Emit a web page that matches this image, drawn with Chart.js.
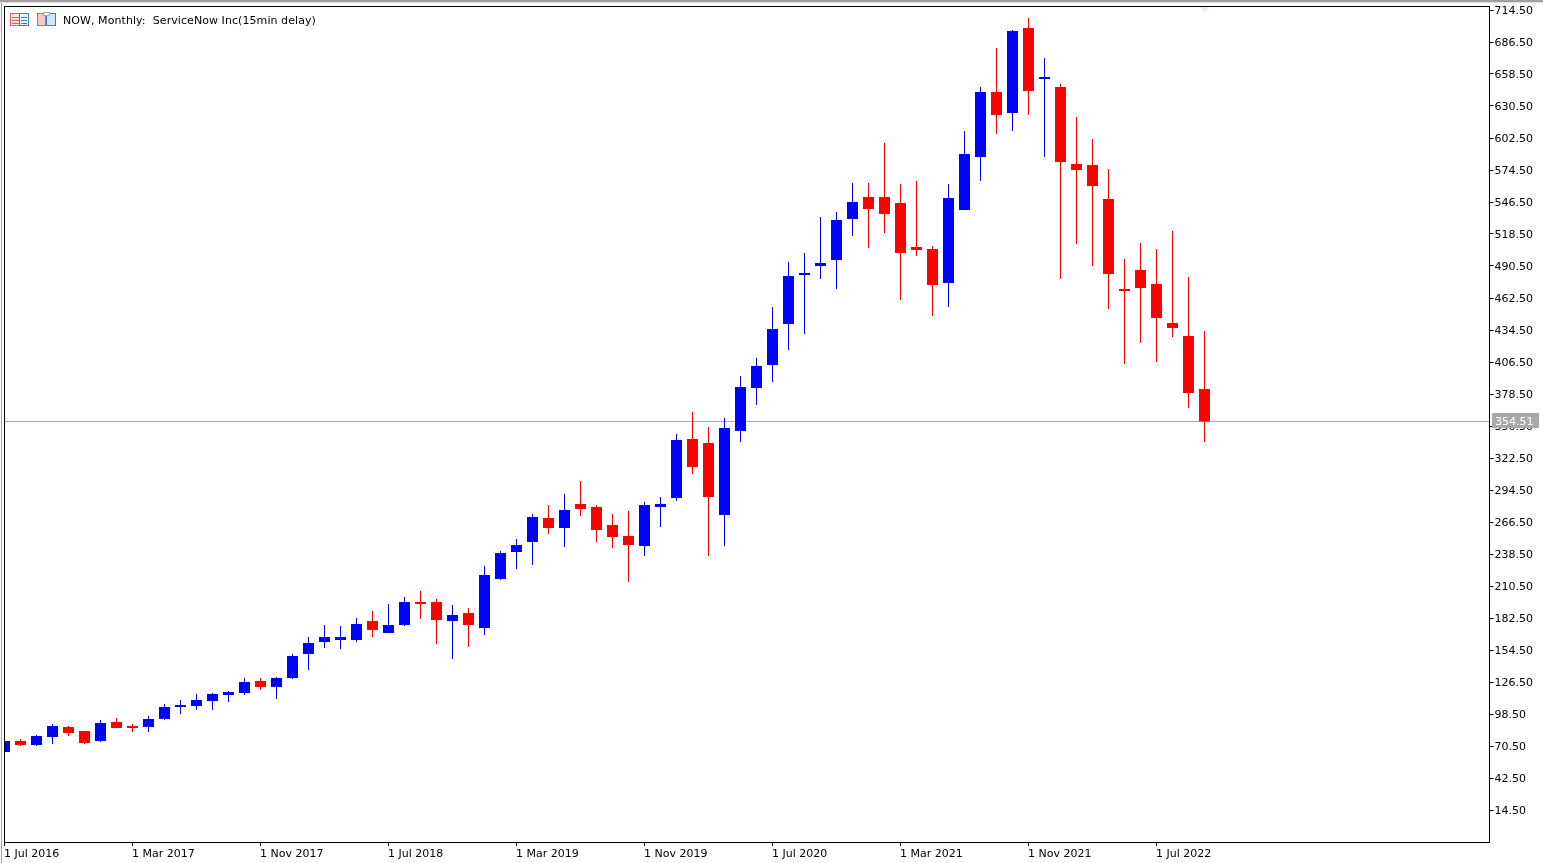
<!DOCTYPE html>
<html>
<head>
<meta charset="utf-8">
<title>NOW, Monthly</title>
<style>
  html, body { margin: 0; padding: 0; background: #fff; overflow: hidden; }
  #wrap { width: 1543px; height: 863px; position: relative; }
</style>
<script src="https://cdn.jsdelivr.net/npm/chart.js@4"></script>
</head>
<body>
<div id="wrap"><canvas id="chart" width="1543" height="863"></canvas></div>
<script>
// Monthly OHLC for ServiceNow, one entry per month starting July 2016.
const opens = [65.25,74.88,71.38,78.38,87.13,83.63,74.88,91.5,88,87.13,94.13,104.63,105.5,109.88,115.13,116.88,127.38,122.13,130,151,161.5,163.25,163.25,179.88,169.38,176.38,196.5,196.5,179.88,186.88,173.75,216.63,240.25,249,270,261.25,282.25,279.63,263.88,254.25,245.5,279.63,287.5,339.13,335.63,272.63,346.13,383.75,403.88,439.75,482.63,490.5,495.75,531.63,550.88,550.88,545.63,507.13,505.38,475.63,539.5,585.88,642.75,624.38,698.75,654.13,647.13,579.75,578.88,549.13,470.38,487,474.75,440.63,429.25,382.88];
const highs = [74.88,76.63,80.13,89.75,88,83.63,93.25,95,89.75,96.75,107.25,110.75,116,116.88,118.63,130,130,130.88,151,165.88,176.38,175.5,182.5,188.63,194.75,200.88,206.13,199.13,193.88,191.25,228,241.13,251.63,273.5,281.38,291,302.38,281.38,273.5,276.13,284,288.38,343.5,362.75,349.63,357.5,394.25,410,454.63,494,501.88,533.38,537.75,563.13,563.13,598.13,562.25,564.88,508,562.25,608.63,647.13,681.25,697,707.5,672.5,649.75,620.88,601.63,575.38,496.63,510.63,505.38,521.13,480.88,433.63];
const lows = [65.25,70.5,70.5,72.25,79.25,72.25,74,86.25,82.75,82.75,93.25,98.5,102,102,109,115.13,119.5,111.63,129.13,137,156.25,155.38,161.5,165.88,169.38,175.5,181.63,159.75,146.63,157.13,167.63,215.75,225.38,228.88,256,244.63,271.75,249,243.75,214,236.75,262.13,284.88,308.5,236.75,245.5,336.5,368.88,389,417,431,479.13,470.38,516.75,506.25,519.38,460.75,499.25,446.75,454.63,539.5,564.88,606,608.63,622.63,585.88,479.13,509.75,490.5,452.88,404.75,423.13,406.5,428.38,366.25,336.5];
const closes = [74.88,71.38,79.25,88,81.88,73.13,90.63,86.25,86.25,94.13,104.63,106.38,110.75,116,117.75,126.5,122.13,130,149.25,160.63,165.88,165.88,177.25,172,176.38,196.5,194.75,180.75,185.13,176.38,220.13,239.38,246.38,270.88,261.25,277,277.88,259.5,253.38,246.38,281.38,282.25,338.25,314.63,288.38,348.75,384.63,403,435.38,481.75,484.38,493.13,530.75,546.5,540.38,536,501.88,504.5,473.88,550,588.5,642.75,622.63,696.13,643.63,655.88,581.5,574.5,560.5,483.5,468.63,471.25,445,436.25,379.38,354.51];

const xTickMonths = [0, 8, 16, 24, 32, 40, 48, 56, 64, 72];
const xTickLabels = ['1 Jul 2016','1 Mar 2017','1 Nov 2017','1 Jul 2018','1 Mar 2019','1 Nov 2019','1 Jul 2020','1 Mar 2021','1 Nov 2021','1 Jul 2022'];
const yTickValues = [714.5,686.5,658.5,630.5,602.5,574.5,546.5,518.5,490.5,462.5,434.5,406.5,378.5,350.5,322.5,294.5,266.5,238.5,210.5,182.5,154.5,126.5,98.5,70.5,42.5,14.5];

const lastPrice = 354.51;
const chartTitle = 'NOW, Monthly:  ServiceNow Inc(15min delay)';

const UP = '#0000ff', DOWN = '#ff0000';
const FAMILY = '"DejaVu Sans", sans-serif';
const FONT = '11px ' + FAMILY;
const candleColor = opens.map((o, i) => (closes[i] >= o ? UP : DOWN));

// The plot edges are fixed, so overflowing tick labels must not push them.
function pinAxis(scale, size, key) {
  scale[key] = size;
  scale.paddingLeft = scale.paddingRight = scale.paddingTop = scale.paddingBottom = 0;
}

// Window chrome, frame, and the current-price line sit around the candles.
const decor = {
  id: 'decor',
  beforeDraw(chart) {
    // Nudge the cached tick labels onto the terminal's text grid.
    const { x, y } = chart.scales;
    if (!chart.$labelsNudged) {
      y.getLabelItems().forEach(item => { item.options.translation[1] += 1; });
      x.getLabelItems().forEach(item => { item.options.translation[0] -= 0.5; });
      chart.$labelsNudged = true;
    }
  },
  beforeDatasetsDraw(chart) {
    const { ctx, chartArea: a, scales: { y } } = chart;
    const py = Math.floor(y.getPixelForValue(lastPrice));
    ctx.save();
    ctx.fillStyle = '#a9a9a9';
    ctx.fillRect(a.left, py, a.right - a.left, 1);
    ctx.restore();
  },
  afterDraw(chart) {
    const { ctx, scales: { y } } = chart;
    ctx.save();
    // outer gray window edge
    ctx.fillStyle = '#a0a0a0';
    ctx.fillRect(0, 0, 1543, 2);
    ctx.fillRect(1, 0, 1, 863);
    ctx.fillStyle = '#e0e0e0';
    ctx.fillRect(0, 2, 1543, 1);
    // frame of the plot
    ctx.strokeStyle = '#000';
    ctx.lineWidth = 1;
    ctx.strokeRect(4.5, 6.5, 1485, 836);

    // price tag on the axis
    const py = Math.floor(y.getPixelForValue(lastPrice));
    ctx.fillStyle = '#a9a9a9';
    ctx.fillRect(1492, py - 8, 47, 15);
    ctx.fillStyle = '#fff';
    ctx.font = FONT;
    ctx.textBaseline = 'middle';
    ctx.textAlign = 'left';
    ctx.fillText(lastPrice.toFixed(2), 1495, py + 1);

    // caption
    ctx.fillStyle = '#000';
    ctx.letterSpacing = '0.07px';
    ctx.fillText(chartTitle, 63, 21);
    ctx.letterSpacing = '0px';

    // small faint marker on the top edge
    ctx.fillStyle = '#e6eeee';
    ctx.beginPath();
    ctx.moveTo(1200, 7); ctx.lineTo(1209, 7); ctx.lineTo(1204.5, 12);
    ctx.closePath(); ctx.fill();

    // toolbar glyph: table
    ctx.lineWidth = 1;
    ctx.strokeStyle = '#ee5a5a';
    ctx.fillStyle = '#fde6e6';
    ctx.fillRect(11, 14, 8, 11);
    ctx.strokeRect(10.5, 13.5, 9, 12);
    ctx.strokeStyle = '#2f82c8';
    ctx.fillStyle = '#e6f2fc';
    ctx.fillRect(20, 14, 8, 11);
    ctx.strokeRect(19.5, 13.5, 9, 12);
    ctx.fillStyle = '#ee5a5a';
    [17, 20, 23].forEach(t => ctx.fillRect(12, t, 7, 1));
    ctx.fillStyle = '#2f82c8';
    [17, 20, 23].forEach(t => ctx.fillRect(21, t, 6, 1));

    // toolbar glyph: split document
    ctx.strokeStyle = '#ee5a5a';
    ctx.fillStyle = '#fbc8c8';
    ctx.fillRect(38, 14, 8, 11);
    ctx.strokeRect(37.5, 13.5, 8, 12);
    ctx.strokeStyle = '#2f82c8';
    ctx.fillStyle = '#cfe6f8';
    ctx.fillRect(47, 14, 8, 11);
    ctx.strokeRect(46.5, 13.5, 9, 12);
    ctx.fillStyle = '#f4f4f4';
    ctx.fillRect(43, 12, 7, 4);
    ctx.strokeStyle = '#a8a8a8';
    ctx.strokeRect(43.5, 12.5, 6, 3);
    ctx.restore();
  }
};

const months = opens.map((_, i) => i);

new Chart(document.getElementById('chart'), {
  type: 'bar',
  data: {
    datasets: [
      {
        label: 'High-Low',
        data: months.map(i => ({ x: i, y: [lows[i], highs[i]] })),
        backgroundColor: candleColor,
        barThickness: 1,
        inflateAmount: 0,
        grouped: false,
        order: 2
      },
      {
        label: 'Open-Close',
        data: months.map(i => ({ x: i, y: [opens[i], closes[i]] })),
        backgroundColor: candleColor,
        barThickness: 11,
        inflateAmount: 0,
        grouped: false,
        order: 1
      }
    ]
  },
  options: {
    responsive: false,
    animation: false,
    layout: { padding: { left: 4.5, top: 6, right: 0, bottom: 0 } },
    plugins: { legend: { display: false }, tooltip: { enabled: false } },
    scales: {
      x: {
        type: 'linear',
        offset: false,
        min: 0,
        max: 92.8125,
        afterFit(s) { pinAxis(s, 21, 'height'); },
        afterBuildTicks(s) { s.ticks = xTickMonths.map(v => ({ value: v })); },
        border: { display: false },
        grid: { offset: false, drawOnChartArea: false, drawTicks: true, tickLength: 4, tickColor: '#000' },
        ticks: {
          autoSkip: false,
          maxRotation: 0,
          align: 'start',
          padding: 2,
          color: '#000',
          font: { family: FAMILY, size: 11 },
          callback: v => xTickLabels[xTickMonths.indexOf(v)]
        }
      },
      y: {
        position: 'right',
        min: -13.5,
        max: 718,
        afterFit(s) { pinAxis(s, 53.5, 'width'); },
        afterBuildTicks(s) { s.ticks = yTickValues.map(v => ({ value: v })); },
        border: { display: false },
        grid: { drawOnChartArea: false, drawTicks: true, tickLength: 4, tickColor: '#000' },
        ticks: {
          autoSkip: false,
          padding: 1,
          color: '#000',
          font: { family: FAMILY, size: 11 },
          callback: v => v.toFixed(2)
        }
      }
    }
  },
  plugins: [decor]
});
</script>
</body>
</html>
